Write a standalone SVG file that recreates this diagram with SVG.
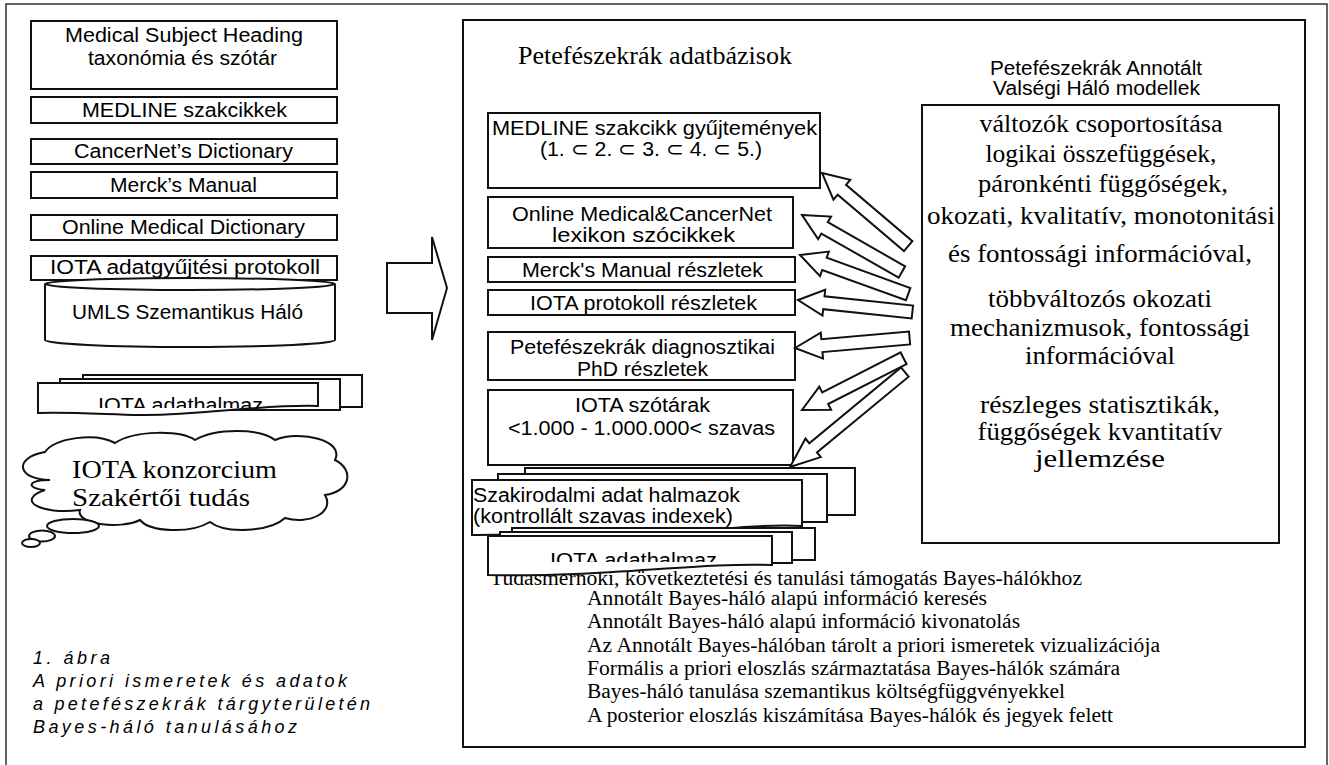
<svg xmlns="http://www.w3.org/2000/svg" width="1329" height="765" viewBox="0 0 1329 765">
<style>
.frame{fill:none;stroke:#333;stroke-width:1.5}
.box{fill:#fff;stroke:#111;stroke-width:2}
.arr{fill:#fff;stroke:#111;stroke-width:2;stroke-linejoin:miter}
.s{font-family:"Liberation Sans",Arial,sans-serif;font-size:20px;fill:#000}
.r{font-family:"Liberation Serif","Times New Roman",serif;fill:#000}
.r26{font-size:26px}
.r20{font-size:20px}
.cl{font-size:26px}
.cap{font-family:"Liberation Sans",Arial,sans-serif;font-size:18px;font-style:italic;fill:#000}
</style>
<defs>
<clipPath id="clipL"><rect x="38" y="383" width="280" height="25"/></clipPath>
<clipPath id="clipR"><rect x="488" y="536" width="284" height="26"/></clipPath>
</defs>
<rect class="frame" x="6" y="4" width="1321" height="775"/>

<!-- Left panel -->
<g id="mesh">
<rect class="box" x="31" y="21" width="306" height="68"/>
<text class="s" x="65" y="42" textLength="238" lengthAdjust="spacingAndGlyphs">Medical Subject Heading</text>
<text class="s" x="88" y="65" textLength="189" lengthAdjust="spacingAndGlyphs">taxonómia és szótár</text>
</g>
<g id="medline">
<rect class="box" x="31" y="97" width="306" height="26"/>
<text class="s" x="82" y="117" textLength="205" lengthAdjust="spacingAndGlyphs">MEDLINE szakcikkek</text>
</g>
<g id="cancernet">
<rect class="box" x="31" y="139" width="306" height="25"/>
<text class="s" x="74" y="158" textLength="219" lengthAdjust="spacingAndGlyphs">CancerNet’s Dictionary</text>
</g>
<g id="merck">
<rect class="box" x="31" y="172" width="306" height="26"/>
<text class="s" x="110" y="192" textLength="147" lengthAdjust="spacingAndGlyphs">Merck’s Manual</text>
</g>
<g id="omd">
<rect class="box" x="31" y="215" width="306" height="25"/>
<text class="s" x="62" y="234" textLength="243" lengthAdjust="spacingAndGlyphs">Online Medical Dictionary</text>
</g>
<g id="iotaprot">
<rect class="box" x="31" y="256" width="306" height="24"/>
<text class="s" x="50" y="274" textLength="270" lengthAdjust="spacingAndGlyphs">IOTA adatgyűjtési protokoll</text>
</g>
<g id="umls">
<path class="box" d="M45,284 L45,340 A145,7 0 0 0 335,340 L335,284"/>
<ellipse class="box" cx="190" cy="284" rx="145" ry="6"/>
<text class="s" x="72" y="319" textLength="231" lengthAdjust="spacingAndGlyphs">UMLS Szemantikus Háló</text>
</g>
<g id="iotadataL">
<rect class="box" x="83" y="375" width="279" height="32"/>
<rect class="box" x="60" y="379" width="280" height="31"/>
<path class="box" d="M38,383 H318 V406 C 260,404 200,416 140,415 C 100,414 70,412 38,413 Z"/>
<text class="s" x="98" y="412" textLength="165" lengthAdjust="spacingAndGlyphs" clip-path="url(#clipL)">IOTA adathalmaz</text>
</g>
<g id="cloud">
<path class="box" d="M50,480 C18,480 12,458 45,452 C55,438 95,432 115,443 C135,430 180,430 195,440 C215,428 260,428 275,440 C300,430 345,440 335,460 C355,470 350,492 325,495 C335,512 310,525 285,518 C270,532 225,534 210,522 C190,534 150,532 140,520 C120,530 75,524 80,510 C40,515 15,500 45,490 C25,488 28,480 50,480 Z"/>
<ellipse class="box" cx="73" cy="526" rx="26" ry="7"/>
<ellipse class="box" cx="42" cy="536" rx="13" ry="5.5"/>
<ellipse class="box" cx="31" cy="543" rx="9" ry="4"/>
<text class="r cl" x="72" y="478" textLength="205" lengthAdjust="spacingAndGlyphs">IOTA konzorcium</text>
<text class="r cl" x="72" y="506" textLength="178" lengthAdjust="spacingAndGlyphs">Szakértői tudás</text>
</g>
<g id="caption">
<text class="cap" x="33" y="664" textLength="77" lengthAdjust="spacing">1. ábra</text>
<text class="cap" x="33" y="687" textLength="314" lengthAdjust="spacing">A priori ismeretek és adatok</text>
<text class="cap" x="33" y="710" textLength="337" lengthAdjust="spacing">a petefészekrák tárgyterületén</text>
<text class="cap" x="33" y="733" textLength="264" lengthAdjust="spacing">Bayes-háló tanulásához</text>
</g>

<g id="bigarrow">
<polygon class="arr" points="387,263 432,263 432,237 447,288 432,340 432,313 387,313"/>
</g>

<!-- Right panel -->
<g id="rightpanel">
<rect class="box" x="463" y="20" width="842" height="727"/>
<text class="r r26" x="518" y="64" textLength="274" lengthAdjust="spacingAndGlyphs">Petefészekrák adatbázisok</text>
</g>

<g id="bottomtext" class="r r20">
<text x="490" y="585" textLength="592" lengthAdjust="spacingAndGlyphs">Tudásmérnöki, következtetési és tanulási támogatás Bayes-hálókhoz</text>
<text x="587" y="605" textLength="400" lengthAdjust="spacingAndGlyphs">Annotált Bayes-háló alapú információ keresés</text>
<text x="587" y="628" textLength="433" lengthAdjust="spacingAndGlyphs">Annotált Bayes-háló alapú információ kivonatolás</text>
<text x="587" y="652" textLength="573" lengthAdjust="spacingAndGlyphs">Az Annotált Bayes-hálóban tárolt a priori ismeretek vizualizációja</text>
<text x="587" y="675" textLength="533" lengthAdjust="spacingAndGlyphs">Formális a priori eloszlás származtatása Bayes-hálók számára</text>
<text x="587" y="698" textLength="478" lengthAdjust="spacingAndGlyphs">Bayes-háló tanulása szemantikus költségfüggvényekkel</text>
<text x="587" y="722" textLength="526" lengthAdjust="spacingAndGlyphs">A posterior eloszlás kiszámítása Bayes-hálók és jegyek felett</text>
</g>

<g id="medlinecoll">
<rect class="box" x="488" y="113" width="332" height="75"/>
<text class="s" x="492" y="135" textLength="325" lengthAdjust="spacingAndGlyphs">MEDLINE szakcikk gyűjtemények</text>
<text class="s" x="540" y="156" textLength="222" lengthAdjust="spacingAndGlyphs">(1. ⊂ 2. ⊂ 3. ⊂ 4. ⊂ 5.)</text>
</g>
<g id="onlinemed">
<rect class="box" x="488" y="197" width="305" height="51"/>
<text class="s" x="512" y="221" textLength="260" lengthAdjust="spacingAndGlyphs">Online Medical&amp;CancerNet</text>
<text class="s" x="552" y="242" textLength="183" lengthAdjust="spacingAndGlyphs">lexikon szócikkek</text>
</g>
<g id="merckR">
<rect class="box" x="488" y="257" width="307" height="25"/>
<text class="s" x="522" y="277" textLength="241" lengthAdjust="spacingAndGlyphs">Merck's Manual részletek</text>
</g>
<g id="iotaprotR">
<rect class="box" x="488" y="290" width="307" height="25"/>
<text class="s" x="530" y="310" textLength="227" lengthAdjust="spacingAndGlyphs">IOTA protokoll részletek</text>
</g>
<g id="phd">
<rect class="box" x="488" y="332" width="307" height="48"/>
<text class="s" x="510" y="354" textLength="265" lengthAdjust="spacingAndGlyphs">Petefészekrák diagnosztikai</text>
<text class="s" x="577" y="376" textLength="131" lengthAdjust="spacingAndGlyphs">PhD részletek</text>
</g>
<g id="iotaszotar">
<rect class="box" x="488" y="390" width="305" height="75"/>
<text class="s" x="575" y="412" textLength="135" lengthAdjust="spacingAndGlyphs">IOTA szótárak</text>
<text class="s" x="508" y="435" textLength="267" lengthAdjust="spacingAndGlyphs">&lt;1.000 - 1.000.000&lt; szavas</text>
</g>
<g id="szakirod">
<rect class="box" x="525" y="468" width="330" height="47"/>
<rect class="box" x="498" y="474" width="329" height="48"/>
<path class="box" d="M472,480 H802 V526 C 740,523 660,538 570,536 C 530,535 500,534 472,535 Z"/>
<text class="s" x="473" y="502" textLength="267" lengthAdjust="spacingAndGlyphs">Szakirodalmi adat halmazok</text>
<text class="s" x="473" y="523" textLength="260" lengthAdjust="spacingAndGlyphs">(kontrollált szavas indexek)</text>
</g>
<g id="iotadataR">
<rect class="box" x="512" y="528" width="303" height="32"/>
<rect class="box" x="500" y="532" width="292" height="31"/>
<path class="box" d="M488,536 H772 V565 C 700,562 600,578 488,575 Z"/>
<text class="s" x="550" y="567" textLength="167" lengthAdjust="spacingAndGlyphs" clip-path="url(#clipR)">IOTA adathalmaz</text>
</g>

<g id="models">
<text class="s" x="990" y="75" textLength="212" lengthAdjust="spacingAndGlyphs">Petefészekrák Annotált</text>
<text class="s" x="993" y="95" textLength="207" lengthAdjust="spacingAndGlyphs">Valségi Háló modellek</text>
<rect class="box" x="922" y="105" width="357" height="438"/>
<g class="r r26" text-anchor="middle">
<text x="1101" y="132" textLength="243" lengthAdjust="spacingAndGlyphs">változók csoportosítása</text>
<text x="1101" y="162" textLength="231" lengthAdjust="spacingAndGlyphs">logikai összefüggések,</text>
<text x="1103" y="192" textLength="250" lengthAdjust="spacingAndGlyphs">páronkénti  függőségek,</text>
<text x="1101" y="224" textLength="348" lengthAdjust="spacingAndGlyphs">okozati, kvalitatív, monotonitási</text>
<text x="1100" y="262" textLength="304" lengthAdjust="spacingAndGlyphs">és fontossági információval,</text>
<text x="1100" y="307" textLength="224" lengthAdjust="spacingAndGlyphs">többváltozós okozati</text>
<text x="1100" y="336" textLength="300" lengthAdjust="spacingAndGlyphs">mechanizmusok, fontossági</text>
<text x="1100" y="364" textLength="150" lengthAdjust="spacingAndGlyphs">információval</text>
<text x="1100" y="413" textLength="240" lengthAdjust="spacingAndGlyphs">részleges statisztikák,</text>
<text x="1100" y="440" textLength="245" lengthAdjust="spacingAndGlyphs">függőségek kvantitatív</text>
<text x="1100" y="467" textLength="130" lengthAdjust="spacingAndGlyphs">jellemzése</text>
</g>
</g>

<g id="connectors">
<polygon class="arr" points="0,0 26,-13 26,-6.5 113,-6.5 113,6.5 26,6.5 26,13" transform="translate(822,173) rotate(40.3)"/>
<polygon class="arr" points="0,0 26,-13 26,-6.5 115,-6.5 115,6.5 26,6.5 26,13" transform="translate(802,215) rotate(29.7)"/>
<polygon class="arr" points="0,0 26,-13 26,-6.5 115,-6.5 115,6.5 26,6.5 26,13" transform="translate(800,255) rotate(19.9)"/>
<polygon class="arr" points="0,0 26,-13 26,-6.5 115,-6.5 115,6.5 26,6.5 26,13" transform="translate(798,300) rotate(6)"/>
<polygon class="arr" points="0,0 27,-13 27,-6.5 115,-6.5 115,6.5 27,6.5 27,13" transform="translate(795,348) rotate(-5)"/>
<polygon class="arr" points="0,0 26,-13 26,-6.5 114,-6.5 114,6.5 26,6.5 26,13" transform="translate(802,410) rotate(-27)"/>
<polygon class="arr" points="0,0 30,-12 30,-6 149,-6 149,6 30,6 30,12" transform="translate(790,467) rotate(-39.6)"/>
</g>
</svg>
